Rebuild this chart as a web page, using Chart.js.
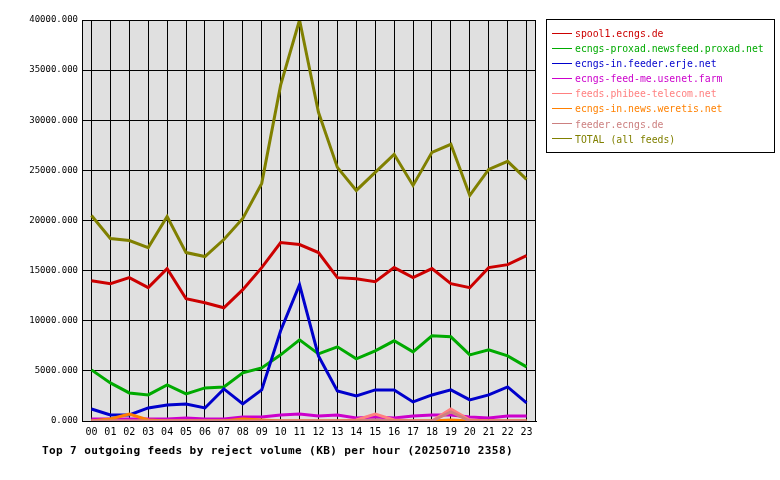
<!DOCTYPE html>
<html><head><meta charset="utf-8">
<script src="https://cdn.jsdelivr.net/npm/chart.js@4"></script>
<style>
body{margin:0;background:#fff;font-family:"DejaVu Sans Mono",monospace;}
#wrap{position:relative;width:780px;height:480px;}
#legend{position:absolute;left:546px;top:19px;width:229px;height:134px;border:1px solid #000;box-sizing:border-box;padding:6px 0 0 5px;font-size:9.8px;line-height:15.1px;}
#legend div{white-space:nowrap;}
#legend span.l{display:inline-block;width:20px;height:1px;vertical-align:middle;margin-right:3px;position:relative;top:-1px}
#title{position:absolute;left:42px;top:444px;font-size:11.1px;font-weight:bold;letter-spacing:0.35px}
</style></head><body>
<div id="wrap"><canvas id="c" width="780" height="480"></canvas><div id="legend"></div>
<div id="title">Top 7 outgoing feeds by reject volume (KB) per hour (20250710 2358)</div></div>
<script>
const hours=["00","01","02","03","04","05","06","07","08","09","10","11","12","13","14","15","16","17","18","19","20","21","22","23"];
const names=["spool1.ecngs.de","ecngs-proxad.newsfeed.proxad.net","ecngs-in.feeder.erje.net","ecngs-feed-me.usenet.farm","feeds.phibee-telecom.net","ecngs-in.news.weretis.net","feeder.ecngs.de","TOTAL (all feeds)"];
const colors=["#cc0000","#00aa00","#0000cc","#cc00cc","#ff8080","#ff8000","#cc8080","#808000"];
const spool1=[14000,13700,14300,13300,15200,12200,11800,11300,13100,15300,17800,17600,16800,14300,14200,13900,15300,14300,15200,13700,13300,15300,15600,16500];
const proxad=[5100,3800,2800,2600,3600,2700,3300,3400,4800,5300,6600,8100,6700,7400,6200,7000,8000,6900,8500,8400,6600,7100,6500,5400];
const erje=[1200,600,600,1300,1600,1700,1300,3200,1700,3100,9000,13600,6500,3000,2500,3100,3100,1900,2600,3100,2100,2600,3400,1800];
const feedme=[200,200,200,200,200,300,200,200,400,400,600,700,500,600,300,400,300,500,600,600,400,300,500,500];
const phibee=[0,0,0,0,0,0,0,0,0,0,0,0,0,0,100,700,100,0,0,1200,100,0,0,0];
const weretis=[0,200,700,100,0,0,0,0,200,100,0,0,0,0,0,0,0,0,0,100,0,0,0,0];
const feeder=[0,0,0,0,0,0,0,0,0,0,0,0,0,0,0,100,0,0,0,900,0,0,0,0];
const total=[20500,18200,18000,17300,20400,16800,16400,18100,20200,23700,33500,40000,30800,25300,23000,24800,26600,23500,26800,27600,22500,25100,25900,24100];
const series=[spool1,proxad,erje,feedme,phibee,weretis,feeder,total];
const lg=document.getElementById('legend');
names.forEach((n,i)=>{lg.innerHTML+=`<div style="color:${colors[i]}"><span class="l" style="background:${colors[i]}"></span>${n}</div>`;});
const bg={id:'bg',beforeDraw(c){const a=c.chartArea,x=c.ctx;x.save();x.fillStyle='#e0e0e0';x.fillRect(a.left,a.top,a.right-a.left,a.bottom-a.top);x.restore();},
afterDraw(c){const a=c.chartArea,x=c.ctx;x.save();x.strokeStyle='#000';x.lineWidth=1;x.strokeRect(a.left+0.5,a.top+0.5,a.right-a.left-1,a.bottom-a.top);x.restore();}};
const ds=series.map((d,i)=>({label:names[i],data:d,borderColor:colors[i],borderWidth:3,pointRadius:0,tension:0,fill:false})).reverse();
new Chart(document.getElementById('c'),{type:'line',data:{labels:hours,datasets:ds},plugins:[bg],
options:{responsive:false,animation:false,layout:{padding:{left:0,right:244,top:20,bottom:37}},
plugins:{legend:{display:false},tooltip:{enabled:false}},
scales:{x:{offset:true,grid:{color:'#000',offset:false,drawTicks:false},border:{color:'#000'},ticks:{color:'#000',padding:5,maxRotation:0,autoSkip:false,font:{family:'DejaVu Sans Mono',size:10}}},
y:{min:0,max:40000,afterFit(s){s.width=82;},grid:{color:'#000',drawTicks:false},border:{color:'#000'},ticks:{stepSize:5000,color:'#000',padding:4,font:{family:'DejaVu Sans Mono',size:9},callback:v=>v.toFixed(3)}}}}});
</script></body></html>
